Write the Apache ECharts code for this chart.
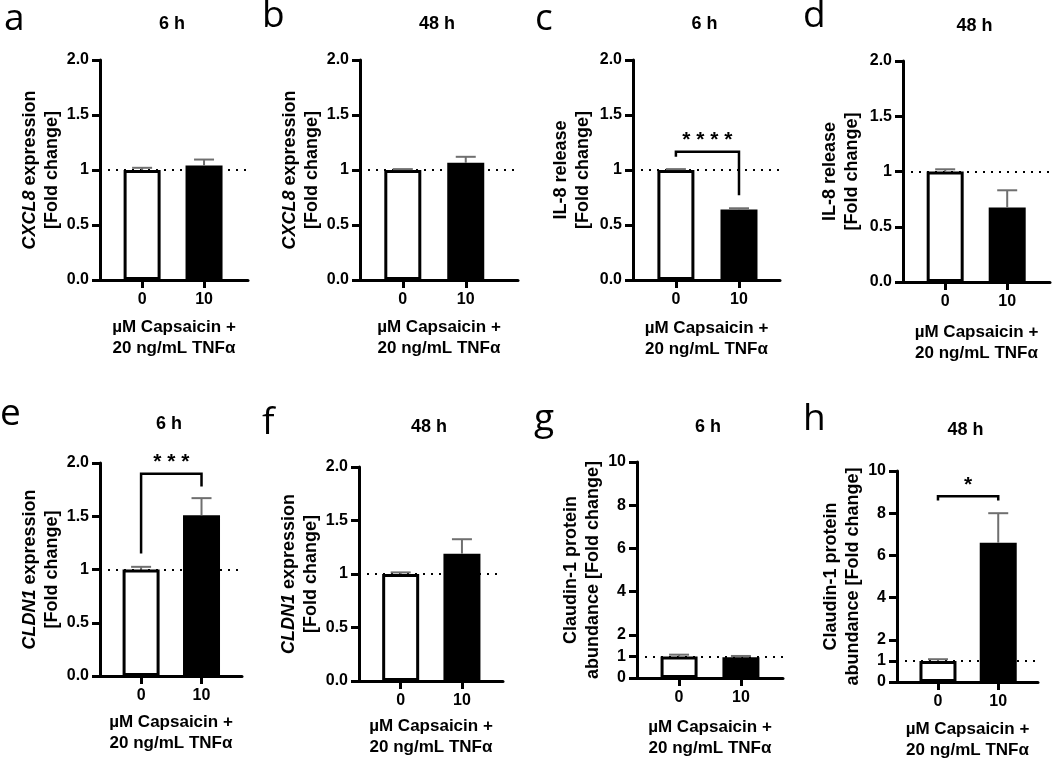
<!DOCTYPE html>
<html>
<head>
<meta charset="utf-8">
<script src="https://cdn.jsdelivr.net/npm/echarts@6/dist/echarts.min.js"></script>
<style>
html, body { margin: 0; padding: 0; background: #fff; }
#chart { width: 1052px; height: 762px; }
</style>
</head>
<body>
<div id="chart"></div>
<script>
// data
var doses = ['0', '10'];
var panelLetters = ['a', 'b', 'c', 'd', 'e', 'f', 'g', 'h'];
var timePoints = ['6 h', '48 h', '6 h', '48 h', '6 h', '48 h', '6 h', '48 h'];
var yNames = [
    '{it|CXCL8}{b| expression}\n{b|[Fold change]}',
    '{it|CXCL8}{b| expression}\n{b|[Fold change]}',
    '{b|IL-8 release}\n{b|[Fold change]}',
    '{b|IL-8 release}\n{b|[Fold change]}',
    '{it|CLDN1}{b| expression}\n{b|[Fold change]}',
    '{it|CLDN1}{b| expression}\n{b|[Fold change]}',
    '{b|Claudin-1 protein}\n{b|abundance [Fold change]}',
    '{b|Claudin-1 protein}\n{b|abundance [Fold change]}'
];
var xName = 'µM Capsaicin +\n20 ng/mL TNFα';

var cxcl8_6h = [1.00, 1.04];
var cxcl8_6h_sem = [0.02, 0.055];
var cxcl8_48h = [1.00, 1.065];
var cxcl8_48h_sem = [0.008, 0.055];
var il8_6h = [1.00, 0.64];
var il8_6h_sem = [0.008, 0.012];
var il8_48h = [1.00, 0.675];
var il8_48h_sem = [0.02, 0.155];
var cldn1_6h = [1.00, 1.51];
var cldn1_6h_sem = [0.025, 0.16];
var cldn1_48h = [1.00, 1.19];
var cldn1_48h_sem = [0.015, 0.135];
var claudin_6h = [1.00, 0.96];
var claudin_6h_sem = [0.08, 0.06];
var claudin_48h = [1.00, 6.6];
var claudin_48h_sem = [0.08, 1.4];

var panelMeans = [cxcl8_6h, cxcl8_48h, il8_6h, il8_48h, cldn1_6h, cldn1_48h, claudin_6h, claudin_48h];
var panelSems = [cxcl8_6h_sem, cxcl8_48h_sem, il8_6h_sem, il8_48h_sem, cldn1_6h_sem, cldn1_48h_sem, claudin_6h_sem, claudin_48h_sem];

var foldTicks = [0, 0.5, 1, 1.5, 2];
var foldTickLabels = ['0.0', '0.5', '1', '1.5', '2.0'];
var proteinTicks = [0, 1, 2, 4, 6, 8, 10];
var proteinTickLabels = ['0', '1', '2', '4', '6', '8', '10'];

// significance brackets: panel, left leg end, bracket top, right leg end
var brackets = [
    { panel: 2, left: 1.12, top: 1.165, right: 0.77, stars: '****' },
    { panel: 4, left: 1.15, top: 1.90, right: 1.78, stars: '***' },
    { panel: 7, left: 8.6, top: 8.8, right: 8.6, stars: '*' }
];

// layout (pixels)
var layout = [
    { left: 100, top: 60, width: 148, height: 220, xMax: 1.71, yGap: 36, xGap: 37, lx: 4, ly: 19, ty: 24 },
    { left: 360, top: 60, width: 158, height: 220, xMax: 1.83, yGap: 37, xGap: 37, lx: 262, ly: 16, ty: 24 },
    { left: 633, top: 60, width: 147, height: 220, xMax: 1.65, yGap: 39, xGap: 38, lx: 535, ly: 19, ty: 24 },
    { left: 903, top: 61, width: 147, height: 221, xMax: 1.69, yGap: 40, xGap: 40, lx: 803, ly: 16, ty: 26 },
    { left: 100, top: 463, width: 142, height: 213, xMax: 1.67, yGap: 37, xGap: 36, lx: 0, ly: 414, ty: 424 },
    { left: 359, top: 467, width: 144, height: 214, xMax: 1.67, yGap: 37, xGap: 35, lx: 262, ly: 423, ty: 427 },
    { left: 637, top: 462, width: 146, height: 216, xMax: 1.68, yGap: 33, xGap: 39, lx: 534, ly: 419, ty: 427 },
    { left: 897, top: 471, width: 141, height: 213, xMax: 1.66, yGap: 32, xGap: 37, lx: 803, ly: 419, ty: 430 }
];

var FONT = '"Liberation Sans", Arial, sans-serif';
var AXIS_W = 3;
var ERR_COLOR = '#6f6f6f';

var myChart = echarts.init(document.getElementById('chart'));

var grids = [], xAxes = [], yAxes = [], series = [], graphics = [];

function richStyle(extra) {
    var s = { fontSize: 18, fontWeight: 'bold', fontFamily: FONT, color: '#000', lineHeight: 22 };
    for (var k in extra) s[k] = extra[k];
    return s;
}

function errorItem(params, api) {
    var x = api.value(0), m = api.value(1), e = api.value(2);
    var p0 = api.coord([x, m]);
    var p1 = api.coord([x, m + e]);
    var st = { stroke: ERR_COLOR, lineWidth: 2 };
    return {
        type: 'group',
        children: [
            { type: 'line', shape: { x1: p0[0], y1: p0[1], x2: p1[0], y2: p1[1] }, style: st },
            { type: 'line', shape: { x1: p1[0] - 10, y1: p1[1], x2: p1[0] + 10, y2: p1[1] }, style: st }
        ]
    };
}

function bracketRenderer(stars) {
    return function (params, api) {
        var a = api.coord([api.value(0), api.value(2)]);
        var b = api.coord([api.value(0), api.value(3)]);
        var c = api.coord([api.value(1), api.value(3)]);
        var d = api.coord([api.value(1), api.value(4)]);
        return {
            type: 'group',
            children: [
                { type: 'polyline', shape: { points: [a, b, c, d] }, style: { stroke: '#000', lineWidth: 2.5, fill: null } },
                {
                    type: 'text', x: (b[0] + c[0]) / 2, y: b[1] - 1,
                    style: {
                        text: stars.split('').join(' '), fill: '#000', fontSize: 21, fontWeight: 'bold',
                        fontFamily: FONT, align: 'center', verticalAlign: 'bottom'
                    }
                }
            ]
        };
    };
}

panelMeans.forEach(function (means, i) {
    var L = layout[i];
    var protein = i >= 6;
    var ticks = protein ? proteinTicks : foldTicks;
    var tickLabels = protein ? proteinTickLabels : foldTickLabels;

    grids.push({ left: L.left, top: L.top, width: L.width, height: L.height });

    xAxes.push({
        gridIndex: i, type: 'value', min: -0.68, max: L.xMax,
        axisLine: { show: true, onZero: false, lineStyle: { color: '#000', width: AXIS_W } },
        axisTick: { show: true, customValues: [0, 1], length: 8, lineStyle: { color: '#000', width: AXIS_W } },
        axisLabel: {
            customValues: [0, 1], margin: 12, fontSize: 16, fontWeight: 'bold', fontFamily: FONT, color: '#000',
            formatter: function (v) { return doses[Math.round(v)]; }
        },
        splitLine: { show: false },
        name: xName, nameLocation: 'middle', nameGap: L.xGap,
        nameTextStyle: { fontSize: 17, fontWeight: 'bold', fontFamily: FONT, color: '#000', lineHeight: 21 }
    });

    yAxes.push({
        gridIndex: i, type: 'value', min: 0, max: protein ? 10 : 2,
        axisLine: { show: true, onZero: false, lineStyle: { color: '#000', width: AXIS_W } },
        axisTick: { show: true, customValues: ticks, length: 8, lineStyle: { color: '#000', width: AXIS_W } },
        axisLabel: {
            customValues: ticks, margin: 11, fontSize: 16, fontWeight: 'bold', fontFamily: FONT, color: '#000',
            formatter: function (v) {
                for (var k = 0; k < ticks.length; k++) {
                    if (Math.abs(ticks[k] - v) < 1e-6) return tickLabels[k];
                }
                return '';
            }
        },
        splitLine: { show: false },
        name: yNames[i], nameLocation: 'middle', nameRotate: 90, nameGap: L.yGap,
        nameTextStyle: richStyle({ rich: { it: richStyle({ fontStyle: 'italic' }), b: richStyle({}) } })
    });

    series.push({
        type: 'bar', xAxisIndex: i, yAxisIndex: i, barWidth: 37, z: 2,
        data: [
            { value: [0, means[0]], itemStyle: { color: '#fff', borderColor: '#000', borderWidth: 3 } },
            { value: [1, means[1]], itemStyle: { color: '#000', borderColor: '#000', borderWidth: 3 } }
        ],
        markLine: {
            silent: true, symbol: 'none', label: { show: false }, z: 1,
            lineStyle: { color: '#000', width: 2, type: [2, 6] },
            data: [{ yAxis: 1 }]
        }
    });

    series.push({
        type: 'custom', xAxisIndex: i, yAxisIndex: i, z: 3,
        renderItem: errorItem,
        data: [[0, means[0], panelSems[i][0]], [1, means[1], panelSems[i][1]]]
    });

    graphics.push({
        type: 'text', x: L.lx, y: L.ly,
        style: { text: panelLetters[i], fontSize: 37, fontFamily: '"Open Sans", sans-serif', fill: '#000', verticalAlign: 'middle' }
    });
    graphics.push({
        type: 'text', x: L.left + L.width / 2 - 2, y: L.ty,
        style: { text: timePoints[i], fontSize: 18, fontWeight: 'bold', fontFamily: FONT, fill: '#000', align: 'center', verticalAlign: 'middle' }
    });
});

brackets.forEach(function (b) {
    series.push({
        type: 'custom', xAxisIndex: b.panel, yAxisIndex: b.panel, z: 4,
        renderItem: bracketRenderer(b.stars),
        data: [[0, 1, b.left, b.top, b.right]]
    });
});

var option = {
    backgroundColor: '#fff',
    animation: false,
    grid: grids,
    xAxis: xAxes,
    yAxis: yAxes,
    series: series,
    graphic: graphics
};
myChart.setOption(option);
</script>
</body>
</html>
